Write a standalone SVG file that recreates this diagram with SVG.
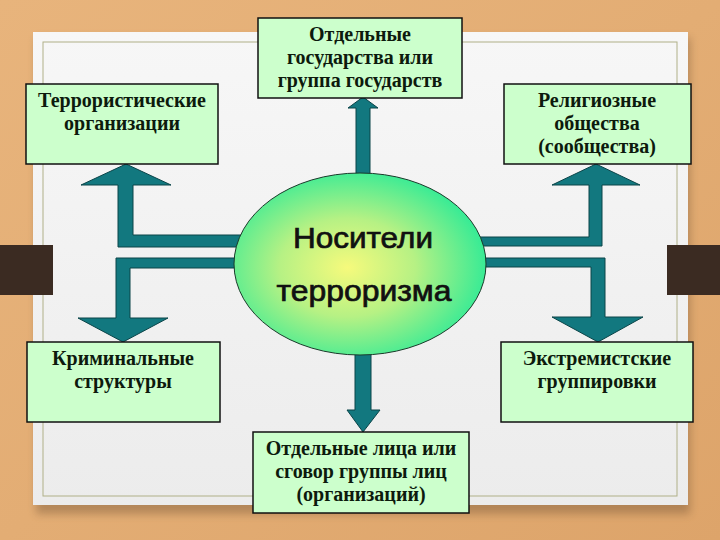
<svg xmlns="http://www.w3.org/2000/svg" width="720" height="540" viewBox="0 0 720 540">
  <defs>
    <linearGradient id="wood" x1="0" y1="0" x2="1" y2="1">
      <stop offset="0" stop-color="#e8b47c"/>
      <stop offset="0.5" stop-color="#e3ad74"/>
      <stop offset="1" stop-color="#dda46a"/>
    </linearGradient>
    <linearGradient id="panel" x1="0" y1="0" x2="0" y2="1">
      <stop offset="0" stop-color="#f7f7f7"/>
      <stop offset="1" stop-color="#ececec"/>
    </linearGradient>
    <radialGradient id="ell" cx="0.45" cy="0.52" r="0.6">
      <stop offset="0" stop-color="#f6fa7c"/>
      <stop offset="0.45" stop-color="#b6f184"/>
      <stop offset="1" stop-color="#22ea98"/>
    </radialGradient>
    <filter id="shadow" x="-10%" y="-10%" width="120%" height="120%">
      <feGaussianBlur stdDeviation="4"/>
    </filter>
  </defs>
  <style>
    .box { fill: #ccffcc; stroke: #111; stroke-width: 1.5; }
    .lbl { font-family: "Liberation Serif", "Times New Roman", serif; font-weight: bold; font-size: 20px; fill: #0d1a0d; text-anchor: middle; }
    .conn { fill: #12787f; stroke: #0a4448; stroke-width: 1; stroke-linejoin: miter; }
    .big { font-family: "Liberation Sans", Arial, sans-serif; font-size: 29px; fill: #111; stroke: #111; stroke-width: 0.7; text-anchor: middle; }
    .bar { fill: #3b2b22; }
  </style>

  <!-- background -->
  <rect x="0" y="0" width="720" height="540" fill="url(#wood)"/>
  <rect x="36" y="38" width="654" height="476" fill="#7a5a3a" opacity="0.45" filter="url(#shadow)"/>
  <rect x="33" y="32" width="655" height="473" fill="url(#panel)"/>
  <rect x="43" y="42" width="634" height="454" fill="none" stroke="#b0b088" stroke-width="1"/>
  <rect class="bar" x="0" y="245" width="53" height="50"/>
  <rect class="bar" x="667" y="245" width="53" height="50"/>

  <!-- connectors -->
  <g id="connectors">
    <polygon class="conn" points="242,235 133,235 133,185 171,185 126,164 81,185 118,185 118,247 242,247"/>
    <polygon class="conn" points="242,258 116,258 116,318 78,318 123,342 168,318 130,318 130,268 242,268"/>
    <polygon class="conn" points="478,237 589,237 589,185 552,185 596,164 640,185 602,185 602,246 478,246"/>
    <polygon class="conn" points="478,258 605,258 605,317 643,317 598,342 552,317 591,317 591,267 478,267"/>
    <polygon class="conn" points="356,182 356,108 348,108 363,97 378,108 370,108 370,182"/>
    <polygon class="conn" points="355,348 355,410 347,410 363,432 380,410 371,410 371,348"/>
  </g>

  <!-- center -->
  <g id="center">
    <ellipse cx="360" cy="264" rx="126" ry="91" fill="url(#ell)" stroke="#1a3a2a" stroke-width="1"/>
    <text class="big" x="363" y="248" textLength="140" lengthAdjust="spacingAndGlyphs">Носители</text>
    <text class="big" x="364" y="301" textLength="175" lengthAdjust="spacingAndGlyphs">терроризма</text>
  </g>

  <g id="terror-org">
    <rect class="box" x="26" y="84" width="192" height="80"/>
    <text class="lbl" x="122" y="107">Террористические</text>
    <text class="lbl" x="122" y="130">организации</text>
  </g>

  <g id="states">
    <rect class="box" x="258" y="18" width="204" height="80"/>
    <text class="lbl" x="360" y="41">Отдельные</text>
    <text class="lbl" x="360" y="64">государства или</text>
    <text class="lbl" x="360" y="87">группа государств</text>
  </g>

  <g id="religious">
    <rect class="box" x="504" y="84" width="187" height="80"/>
    <text class="lbl" x="597" y="107">Религиозные</text>
    <text class="lbl" x="597" y="130">общества</text>
    <text class="lbl" x="597" y="153">(сообщества)</text>
  </g>

  <g id="criminal">
    <rect class="box" x="27" y="342" width="193" height="80"/>
    <text class="lbl" x="123" y="365">Криминальные</text>
    <text class="lbl" x="123" y="388">структуры</text>
  </g>

  <g id="extremist">
    <rect class="box" x="501" y="342" width="192" height="80"/>
    <text class="lbl" x="597" y="365">Экстремистские</text>
    <text class="lbl" x="597" y="388">группировки</text>
  </g>

  <g id="individuals">
    <rect class="box" x="253" y="432" width="216" height="81"/>
    <text class="lbl" x="361" y="455">Отдельные лица или</text>
    <text class="lbl" x="361" y="478">сговор группы лиц</text>
    <text class="lbl" x="361" y="501">(организаций)</text>
  </g>
</svg>
